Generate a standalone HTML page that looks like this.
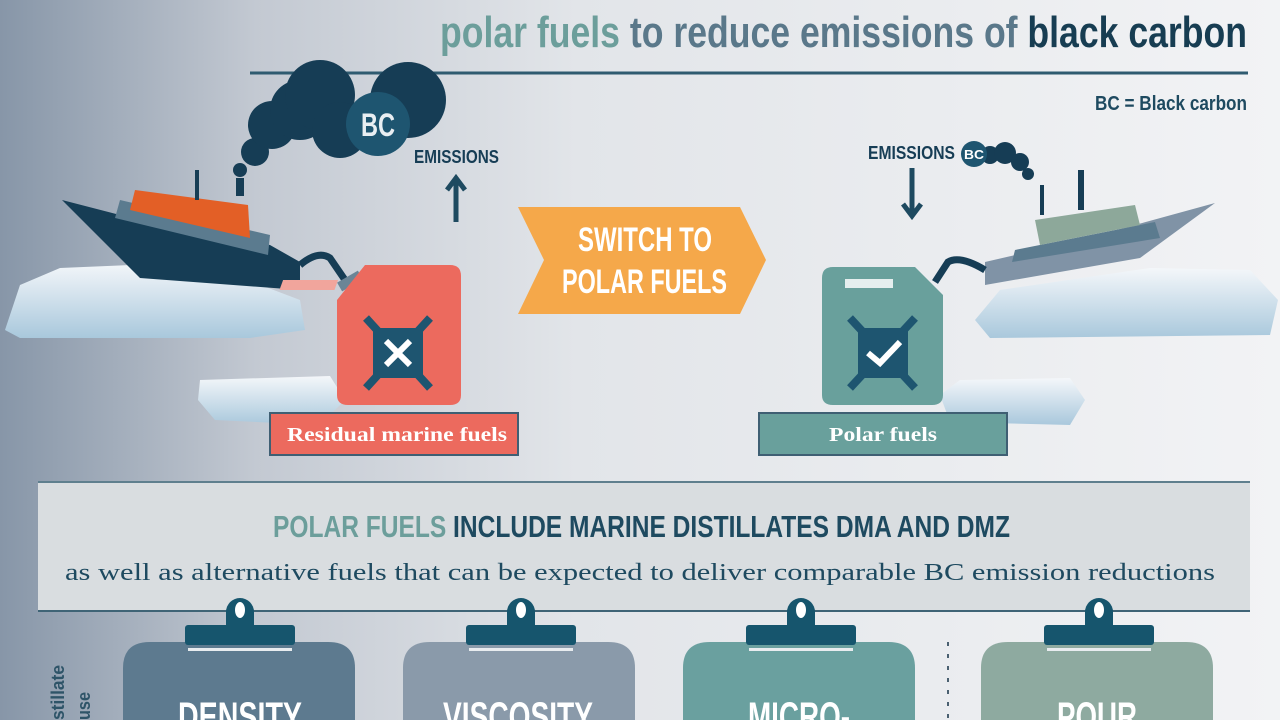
<!DOCTYPE html>
<html><head><meta charset="utf-8"><style>
html,body{margin:0;padding:0;width:1280px;height:720px;overflow:hidden}
svg{display:block}
.c{font-family:"Liberation Sans Narrow","Liberation Sans",sans-serif;font-weight:bold}
.s{font-family:"Liberation Serif",serif;font-weight:bold}
</style></head><body>
<svg width="1280" height="720" viewBox="0 0 1280 720" xmlns="http://www.w3.org/2000/svg">
<defs>
<linearGradient id="bg" x1="0" x2="1" y1="0" y2="0">
<stop offset="0" stop-color="#8796a8"/><stop offset="0.2" stop-color="#c3c9d2"/><stop offset="0.45" stop-color="#e2e5e9"/><stop offset="1" stop-color="#f2f3f5"/>
</linearGradient>
<linearGradient id="ice" x1="0" x2="0" y1="0" y2="1"><stop offset="0" stop-color="#f4f7fa"/><stop offset="1" stop-color="#a9c8dc"/></linearGradient>
</defs>
<rect width="1280" height="720" fill="url(#bg)"/>
<!-- title -->
<text x="440" y="47" textLength="807" lengthAdjust="spacingAndGlyphs" class="c" font-size="44"><tspan fill="#6c9e9b">polar fuels</tspan><tspan fill="#5a788a"> to reduce emissions of </tspan><tspan fill="#173d52">black carbon</tspan></text>
<line x1="250" y1="73" x2="1248" y2="73" stroke="#2f5b70" stroke-width="3"/>
<text x="1095" y="110" textLength="152" lengthAdjust="spacingAndGlyphs" class="c" font-size="20" fill="#1e4a60">BC = Black carbon</text>

<!-- left ice -->
<path d="M5,330 L20,285 L60,268 L200,262 L300,300 L305,330 L250,338 L20,338 Z" fill="url(#ice)"/>
<path d="M200,380 L330,376 L345,400 L320,425 L215,420 L198,400 Z" fill="url(#ice)"/>
<!-- left ship -->
<path d="M62,200 L120,215 L270,245 L300,262 L300,290 L140,278 Z" fill="#163d55"/>
<path d="M120,200 L270,235 L268,255 L115,218 Z" fill="#5b7b8f"/>
<path d="M135,190 L248,205 L250,238 L130,210 Z" fill="#e35f26"/>
<rect x="236" y="178" width="8" height="18" fill="#163d55"/>
<rect x="195" y="170" width="4" height="30" fill="#163d55"/>
<!-- smoke -->
<g fill="#163d55"><circle cx="240" cy="170" r="7"/><circle cx="255" cy="152" r="14"/><circle cx="272" cy="125" r="24"/><circle cx="300" cy="110" r="30"/><circle cx="320" cy="95" r="35"/><circle cx="340" cy="130" r="28"/><circle cx="408" cy="100" r="38"/></g>
<circle cx="378" cy="124" r="32" fill="#1e5570"/>
<text x="378" y="136" text-anchor="middle" class="c" font-size="32" fill="#e8eef2" textLength="34" lengthAdjust="spacingAndGlyphs">BC</text>
<text x="414" y="163" textLength="85" lengthAdjust="spacingAndGlyphs" class="c" font-size="18" fill="#163d55">EMISSIONS</text>
<path d="M456,222 V180 M447,190 L456,178 L465,190" stroke="#1e4a60" stroke-width="5" fill="none"/>
<!-- left hose & can -->
<path d="M300,265 Q318,250 330,258 L345,280" stroke="#163d55" stroke-width="7" fill="none"/>
<rect x="338" y="276" width="24" height="10" fill="#6b8596" transform="rotate(-30 350 281)"/>
<path d="M365,265 H450 Q461,265 461,276 V395 Q461,405 450,405 H348 Q337,405 337,395 V300 Z" fill="#ec6a5e"/>
<rect x="385" y="280" width="55" height="10" fill="#f1a59c" transform="skewX(-20)"/>
<path d="M366,318 L430,388 M430,318 L366,388" stroke="#1e5570" stroke-width="8"/>
<rect x="373" y="328" width="50" height="50" fill="#1e5570"/>
<path d="M386,341 L410,365 M410,341 L386,365" stroke="#fff" stroke-width="6"/>
<rect x="270" y="413" width="248" height="42" fill="#ec6a5e" stroke="#3f5f73" stroke-width="2"/>
<text x="287" y="441" textLength="220" lengthAdjust="spacingAndGlyphs" class="s" font-size="20" fill="#fff">Residual marine fuels</text>

<!-- arrow -->
<path d="M518,207 H740 L766,260 L740,314 H518 L544,260 Z" fill="#f5a84a"/>
<text x="578" y="251" textLength="134" lengthAdjust="spacingAndGlyphs" class="c" font-size="34" fill="#fff">SWITCH TO</text>
<text x="562" y="293" textLength="165" lengthAdjust="spacingAndGlyphs" class="c" font-size="34" fill="#fff">POLAR FUELS</text>

<!-- right ice -->
<path d="M975,320 L1000,290 L1150,268 L1250,270 L1278,300 L1270,335 L990,338 Z" fill="url(#ice)"/>
<path d="M940,395 L960,380 L1070,378 L1085,400 L1070,425 L950,422 Z" fill="url(#ice)"/>
<!-- right ship -->
<path d="M985,262 L1080,240 L1215,203 L1140,258 L985,285 Z" fill="#8093a6"/>
<path d="M1015,250 L1155,222 L1160,238 L1012,262 Z" fill="#5b7b8f"/>
<path d="M1035,220 L1135,205 L1140,225 L1040,245 Z" fill="#8da89a"/>
<rect x="1078" y="170" width="6" height="40" fill="#163d55"/>
<rect x="1040" y="185" width="4" height="30" fill="#163d55"/>
<g fill="#163d55"><circle cx="990" cy="155" r="9"/><circle cx="1005" cy="153" r="11"/><circle cx="1020" cy="162" r="9"/><circle cx="1028" cy="174" r="6"/></g>
<circle cx="974" cy="154" r="13" fill="#1e5570"/>
<text x="964" y="159" textLength="20" lengthAdjust="spacingAndGlyphs" class="c" font-size="13" fill="#fff">BC</text>
<text x="868" y="159" textLength="87" lengthAdjust="spacingAndGlyphs" class="c" font-size="18" fill="#163d55">EMISSIONS</text>
<path d="M912,168 V214 M903,204 L912,216 L921,204" stroke="#1e4a60" stroke-width="5" fill="none"/>
<path d="M985,270 Q960,255 948,262 L935,282" stroke="#163d55" stroke-width="7" fill="none"/>
<path d="M833,267 H915 L943,295 V395 Q943,405 932,405 H833 Q822,405 822,395 V278 Q822,267 833,267 Z" fill="#69a09c"/>
<rect x="845" y="279" width="48" height="9" fill="#e5eeee"/>
<path d="M850,318 L915,388 M915,318 L850,388" stroke="#1e5570" stroke-width="8"/>
<rect x="858" y="328" width="50" height="50" fill="#1e5570"/>
<path d="M868,353 L880,363 L900,342" stroke="#fff" stroke-width="6" fill="none"/>
<rect x="759" y="413" width="248" height="42" fill="#69a09c" stroke="#3f5f73" stroke-width="2"/>
<text x="829" y="441" textLength="108" lengthAdjust="spacingAndGlyphs" class="s" font-size="20" fill="#fff">Polar fuels</text>

<!-- band -->
<rect x="38" y="481" width="1212" height="130" fill="#d9dde0"/>
<line x1="38" y1="482" x2="1250" y2="482" stroke="#5f7f8e" stroke-width="2"/>
<line x1="38" y1="611" x2="1250" y2="611" stroke="#3f6476" stroke-width="2"/>
<text x="273" y="537" textLength="737" lengthAdjust="spacingAndGlyphs" class="c" font-size="31"><tspan fill="#6c9e9b">POLAR FUELS</tspan><tspan fill="#1e4a60"> INCLUDE MARINE DISTILLATES DMA AND DMZ</tspan></text>
<text x="65" y="580" textLength="1150" lengthAdjust="spacingAndGlyphs" font-family="Liberation Serif,serif" font-size="24" fill="#1e4a60">as well as alternative fuels that can be expected to deliver comparable BC emission reductions</text>

<!-- cards -->
<g>
<path d="M123,720 V668 Q123,642 150,642 H328 Q355,642 355,668 V720 Z" fill="#5d7a8f"/>
<path d="M403,720 V668 Q403,642 430,642 H608 Q635,642 635,668 V720 Z" fill="#8a9aaa"/>
<path d="M683,720 V668 Q683,642 710,642 H888 Q915,642 915,668 V720 Z" fill="#6aa09f"/>
<path d="M981,720 V668 Q981,642 1008,642 H1186 Q1213,642 1213,668 V720 Z" fill="#8eaaa0"/>
</g>
<g fill="#16556d">
<rect x="185" y="625" width="110" height="20" rx="3"/><path d="M226,628 V612 A14,14 0 0 1 254,612 V628 Z"/>
<rect x="466" y="625" width="110" height="20" rx="3"/><path d="M507,628 V612 A14,14 0 0 1 535,612 V628 Z"/>
<rect x="746" y="625" width="110" height="20" rx="3"/><path d="M787,628 V612 A14,14 0 0 1 815,612 V628 Z"/>
<rect x="1044" y="625" width="110" height="20" rx="3"/><path d="M1085,628 V612 A14,14 0 0 1 1113,612 V628 Z"/>
</g>
<g fill="#fff"><ellipse cx="240" cy="610" rx="5" ry="8"/><ellipse cx="521" cy="610" rx="5" ry="8"/><ellipse cx="801" cy="610" rx="5" ry="8"/><ellipse cx="1099" cy="610" rx="5" ry="8"/></g>
<g fill="#e8ecef"><rect x="188" y="648" width="104" height="3"/><rect x="469" y="648" width="104" height="3"/><rect x="749" y="648" width="104" height="3"/><rect x="1047" y="648" width="104" height="3"/></g>
<g class="c" font-size="40" fill="#fff">
<text x="178" y="730" textLength="124" lengthAdjust="spacingAndGlyphs">DENSITY</text>
<text x="443" y="730" textLength="150" lengthAdjust="spacingAndGlyphs">VISCOSITY</text>
<text x="748" y="730" textLength="102" lengthAdjust="spacingAndGlyphs">MICRO-</text>
<text x="1057" y="730" textLength="80" lengthAdjust="spacingAndGlyphs">POUR</text>
</g>
<line x1="948" y1="642" x2="948" y2="720" stroke="#4a6070" stroke-width="2" stroke-dasharray="4,8"/>
<text transform="translate(64,720) rotate(-90)" class="c" font-size="18" fill="#2e5468" textLength="55" lengthAdjust="spacingAndGlyphs">stillate</text>
<text transform="translate(90,720) rotate(-90)" class="c" font-size="18" fill="#2e5468" textLength="28" lengthAdjust="spacingAndGlyphs">use</text>
</svg>
</body></html>
